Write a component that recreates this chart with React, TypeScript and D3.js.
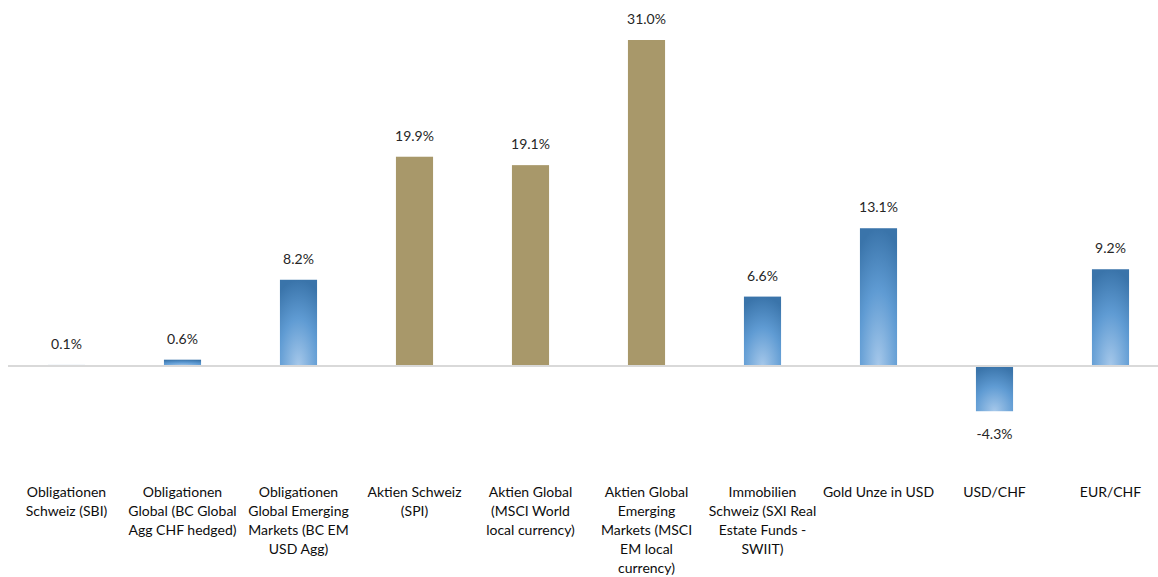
import React from "react";
import * as d3 from "d3";

const categories: string[][] = [
  ["Obligationen", "Schweiz (SBI)"],
  ["Obligationen", "Global (BC Global", "Agg CHF hedged)"],
  ["Obligationen", "Global Emerging", "Markets (BC EM", "USD Agg)"],
  ["Aktien Schweiz", "(SPI)"],
  ["Aktien Global", "(MSCI World", "local currency)"],
  ["Aktien Global", "Emerging", "Markets (MSCI", "EM local", "currency)"],
  ["Immobilien", "Schweiz (SXI Real", "Estate Funds -", "SWIIT)"],
  ["Gold Unze in USD"],
  ["USD/CHF"],
  ["EUR/CHF"],
];
const values: number[] = [0.1, 0.6, 8.2, 19.9, 19.1, 31.0, 6.6, 13.1, -4.3, 9.2];
const kinds: string[] = ["blue", "blue", "blue", "tan", "tan", "tan", "blue", "blue", "blue", "blue"];

const W = 1158;
const H = 577;

export default function App() {
  const x = d3
    .scaleBand<number>()
    .domain(values.map((_, i) => i))
    .range([8.5, 1168.5])
    .paddingInner(0.68)
    .paddingOuter(0.34);
  const y = d3.scaleLinear().domain([0, 31]).range([366, 40]);
  const font = "Lato, Calibri, 'Open Sans', sans-serif";
  return (
    <svg
      width={W}
      height={H}
      style={{ position: "absolute", left: 0, top: 0, display: "block", background: "#fff" }}
    >
      <defs>
        <radialGradient id="blueGrad" cx="50%" cy="100%" r="100%" fx="50%" fy="100%">
          <stop offset="0" stopColor="#a6c8ea" />
          <stop offset="0.55" stopColor="#5f9bd3" />
          <stop offset="1" stopColor="#3a74aa" />
        </radialGradient>
      </defs>
      {values.map((v, i) => {
        const x0 = x(i)!;
        const top = y(Math.max(v, 0));
        const bot = y(Math.min(v, 0));
        return (
          <rect
            key={"b" + i}
            x={x0}
            y={top}
            width={x.bandwidth()}
            height={Math.max(bot - top, 0.8)}
            fill={kinds[i] === "tan" ? "#a8986a" : "url(#blueGrad)"}
          />
        );
      })}
      <line x1={8} x2={W} y1={y(0)} y2={y(0)} stroke="#d9d9d9" strokeWidth={2} />
      {values.map((v, i) => {
        const cx = x(i)! + x.bandwidth() / 2;
        const ty = v >= 0 ? y(v) - 16 : y(v) + 28;
        return (
          <text
            key={"v" + i}
            x={cx}
            y={ty}
            textAnchor="middle"
            fontFamily={font}
            fontSize={14}
            fill="#262626"
          >
            {v.toFixed(1) + "%"}
          </text>
        );
      })}
      {categories.map((lines, i) => {
        const cx = x(i)! + x.bandwidth() / 2;
        return (
          <text
            key={"c" + i}
            textAnchor="middle"
            fontFamily={font}
            fontSize={14}
            fill="#0d0d0d"
          >
            {lines.map((l, j) => (
              <tspan key={j} x={cx} y={497 + j * 19}>
                {l}
              </tspan>
            ))}
          </text>
        );
      })}
    </svg>
  );
}
